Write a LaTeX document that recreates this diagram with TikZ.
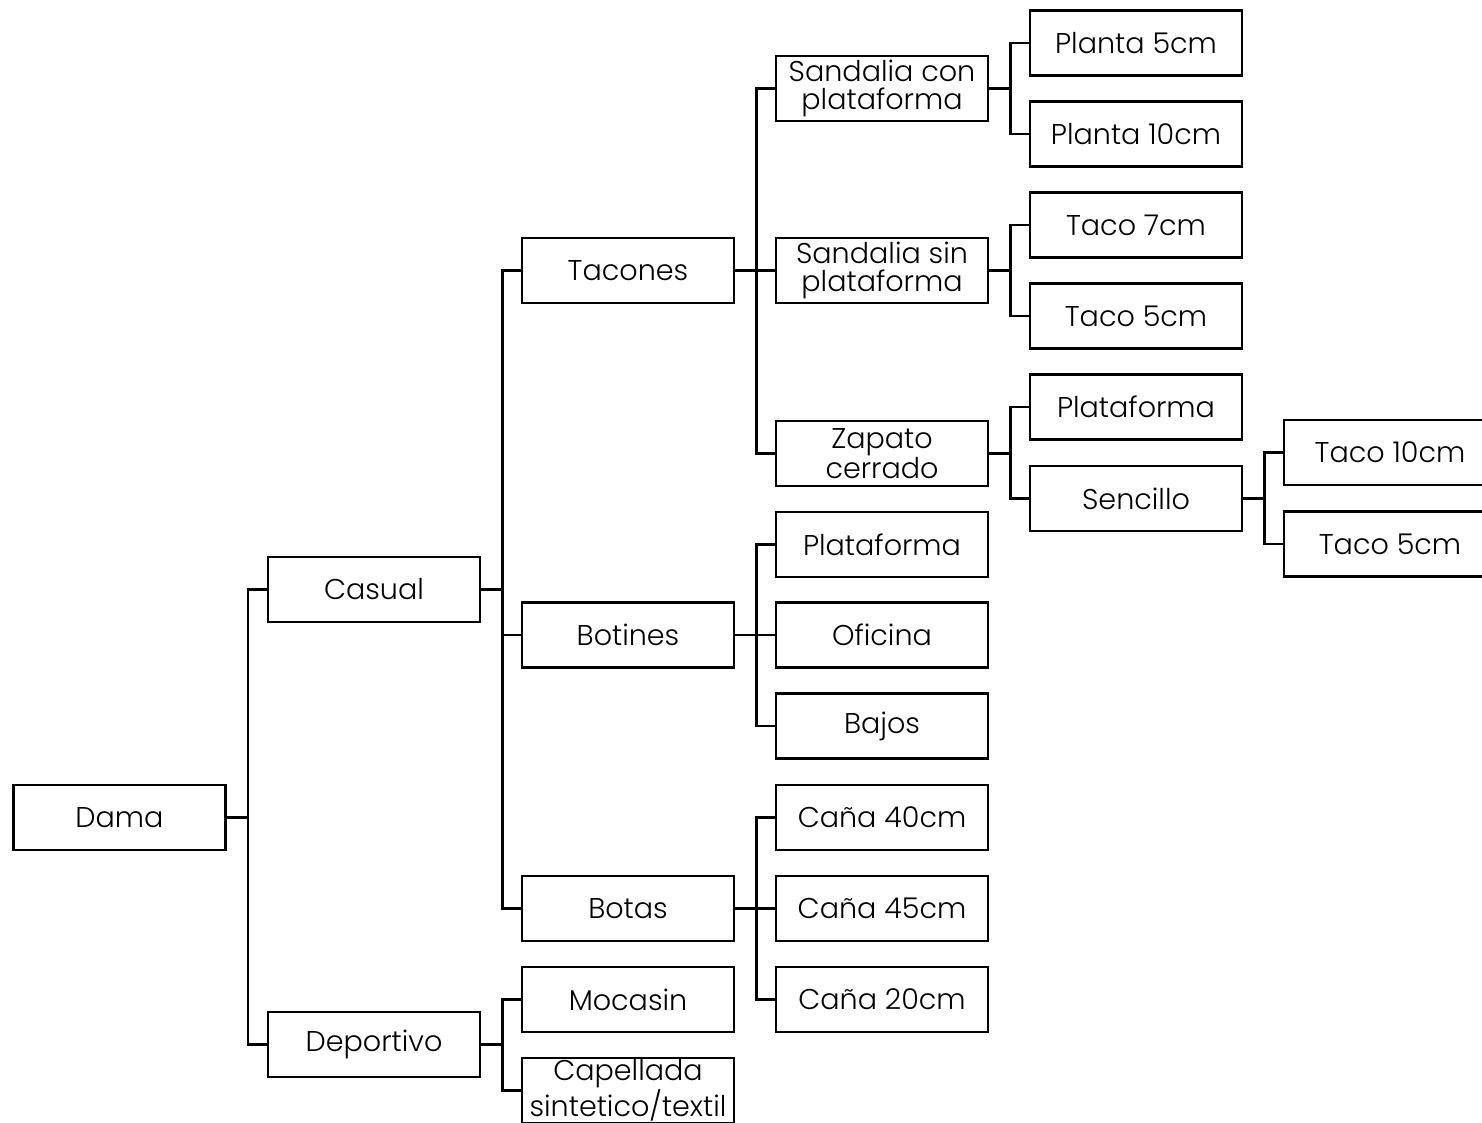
\documentclass[tikz,border=0pt]{standalone}
\usepackage{fontspec}
\setmainfont{Poppins}[UprightFont=* Light]
\begin{document}
\begin{tikzpicture}[x=0.5pt,y=-0.5pt,
  box/.style={draw=black,line width=1.3pt,fill=white,rectangle,
    minimum width=106pt,minimum height=32.5pt,inner sep=0pt,
    align=center,font=\fontsize{14.3}{14.2}\selectfont},
  link/.style={draw=black,line width=1.3pt}]
\useasboundingbox (0,0) rectangle (1482,1123);
\clip (0,0) rectangle (1482,1123);
% column 0 and 1
\node[box] (dama) at (119.5,817.5) {Dama};
\node[box] (casual) at (374,589.5) {Casual};
\node[box] (deportivo) at (374,1044.5) {Deportivo};
% column 2
\node[box] (tacones) at (628,270.5) {Tacones};
\node[box] (botines) at (628,635) {Botines};
\node[box] (botas) at (628,908.5) {Botas};
\node[box] (mocasin) at (628,999.5) {Mocasin};
\node[box] (capellada) at (628,1090.5) {Capellada\\sintetico/textil};
% column 3
\node[box] (sancon) at (882,88.5) {Sandalia con\\plataforma};
\node[box] (sansin) at (882,270.5) {Sandalia sin\\plataforma};
\node[box] (zapato) at (882,453.5) {Zapato\\cerrado};
\node[box] (botplat) at (882,544.5) {Plataforma};
\node[box] (oficina) at (882,635) {Oficina};
\node[box] (bajos) at (882,726) {Bajos};
\node[box] (cana40) at (882,817.5) {Caña 40cm};
\node[box] (cana45) at (882,908.5) {Caña 45cm};
\node[box] (cana20) at (882,999.5) {Caña 20cm};
% column 4
\node[box] (planta5) at (1136,43) {Planta 5cm};
\node[box] (planta10) at (1136,134) {Planta 10cm};
\node[box] (taco7) at (1136,225) {Taco 7cm};
\node[box] (tacofive) at (1136,316) {Taco 5cm};
\node[box] (zapplat) at (1136,407) {Plataforma};
\node[box] (sencillo) at (1136,498.5) {Sencillo};
% column 5
\node[box] (taco10) at (1390,452.5) {Taco 10cm};
\node[box] (tacofiveb) at (1390,544) {Taco 5cm};
% elbow connectors
\foreach \p/\c in {dama/casual,dama/deportivo,
  casual/tacones,casual/botines,casual/botas,
  deportivo/mocasin,deportivo/capellada,
  tacones/sancon,tacones/sansin,tacones/zapato,
  botines/botplat,botines/oficina,botines/bajos,
  botas/cana40,botas/cana45,botas/cana20,
  sancon/planta5,sancon/planta10,
  sansin/taco7,sansin/tacofive,
  zapato/zapplat,zapato/sencillo,
  sencillo/taco10,sencillo/tacofiveb}
  \draw[link] (\p.east) -- ++(21,0) |- (\c.west);
\end{tikzpicture}
\end{document}
